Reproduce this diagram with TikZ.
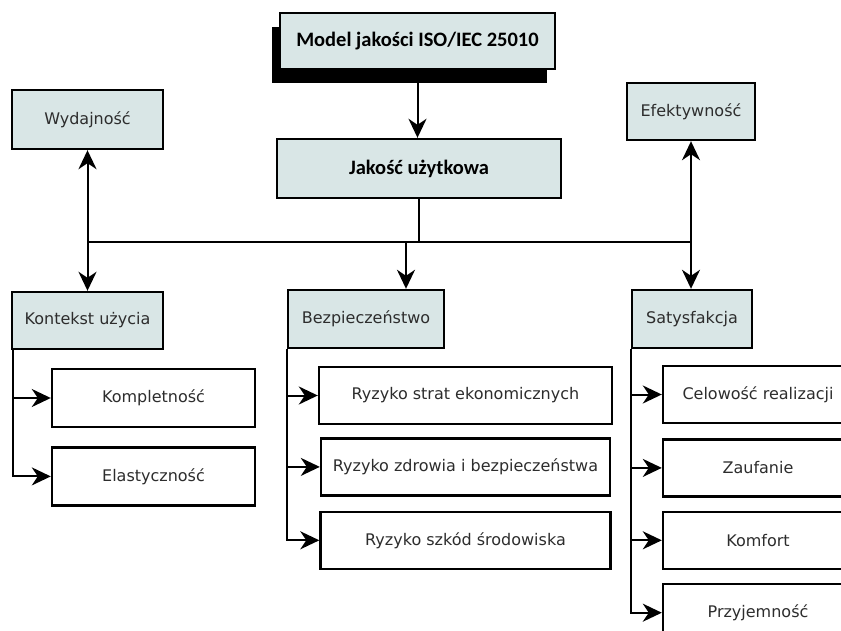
\documentclass[tikz,border=0pt]{standalone}
\usepackage{fontspec}
\setmainfont{DejaVu Sans}
\newfontfamily\titlefont{Carlito}
\usetikzlibrary{arrows.meta,positioning,shadows}
\definecolor{boxcyan}{RGB}{217,230,230}
\definecolor{labelgray}{RGB}{45,45,45}

\begin{document}
\begin{tikzpicture}[
    x=1pt,y=-1pt,
    node distance=12pt,
    head/.style={rectangle,draw,line width=2.4pt,fill=boxcyan,minimum height=57pt,
                 font=\titlefont\bfseries\fontsize{20.5}{24}\selectfont,text=black},
    group/.style={rectangle,draw,line width=2.4pt,fill=boxcyan,minimum height=57pt,
                  font=\fontsize{16}{19}\selectfont,text=labelgray,inner sep=0pt},
    leaf/.style={rectangle,draw,line width=2.4pt,fill=white,minimum height=57pt,
                 font=\fontsize{16}{19}\selectfont,text=labelgray,inner sep=0pt},
    arrow/.style={-{Stealth[length=19pt,width=18pt,inset=6pt]},line width=2pt},
    link/.style={line width=2pt}
]
    \clip (0,0) rectangle (841,631);
    \fill[white] (0,0) rectangle (841,631);
    \node[head,minimum width=275pt,minimum height=56pt,
          general shadow={fill=black,shadow xshift=-8pt,shadow yshift=-14pt}] (model) at (417.5,41) {Model jakości ISO/IEC 25010};
    \node[head,minimum width=284pt,minimum height=59pt] (quality) at (419,168.5) {Jakość użytkowa};
    \node[group,minimum width=151pt,minimum height=59pt] (perf) at (87.5,119.5) {Wydajność};
    \node[group,minimum width=128pt] (eff) at (691,111.5) {Efektywność};
    \node[group,minimum width=151pt] (context) at (87.5,320.5) {Kontekst użycia};
    \node[group,minimum width=156pt,minimum height=58pt] (safety) at (366,319) {Bezpieczeństwo};
    \node[group,minimum width=120pt,minimum height=58pt] (satisf) at (692,319) {Satysfakcja};
    \node[leaf,minimum width=203pt,minimum height=58pt] (complete) at (153.5,398) {Kompletność};
    \node[leaf,minimum width=203pt,minimum height=58pt,below=18pt of complete] (flex) {Elastyczność};
    \node[leaf,minimum width=293pt] (econ) at (465.5,395.5) {Ryzyko strat ekonomicznych};
    \node[leaf,minimum width=289pt,below=of econ] (health) {Ryzyko zdrowia i bezpieczeństwa};
    \node[leaf,minimum width=290pt,below=14pt of health] (env) {Ryzyko szkód środowiska};
    \node[leaf,minimum width=190pt] (purpose) at (758,394.5) {Celowość realizacji};
    \node[leaf,minimum width=190pt,below=14pt of purpose] (trust) {Zaufanie};
    \node[leaf,minimum width=190pt,below=13pt of trust] (comfort) {Komfort};
    \node[leaf,minimum width=190pt,below=13pt of comfort] (pleasure) {Przyjemność};
    \coordinate (hub) at (419,242);
    \draw[arrow] (model.south) -- (model.south |- quality.north);
    \draw[link] (quality.south) -- (hub);
    \draw[link] (hub -| perf.south) -- (hub -| eff.south);
    \draw[arrow] (hub -| perf.south) -- (perf.south);
    \draw[arrow] (hub -| eff.south) -- (eff.south);
    \draw[arrow] (hub -| context.north) -- (context.north);
    \draw[arrow] (hub -| 406,0) -- (safety.north -| 406,0);
    \draw[arrow] (hub -| eff.south) -- (satisf.north -| eff.south);
    \draw[link] ([xshift=2pt]context.south west) -- ([xshift=2pt]context.south west |- flex.west);
    \draw[arrow] ([xshift=2pt]context.south west) |- (complete.west);
    \draw[arrow] ([xshift=2pt]context.south west) |- (flex.west);
    \draw[link] (safety.south west) -- (safety.south west |- env.west);
    \foreach \leafnode in {econ,health,env}
        \draw[arrow] (safety.south west) |- (\leafnode.west);
    \draw[link] (satisf.south west) -- (satisf.south west |- pleasure.west);
    \foreach \leafnode in {purpose,trust,comfort,pleasure}
        \draw[arrow] (satisf.south west) |- (\leafnode.west);
\end{tikzpicture}
\end{document}
